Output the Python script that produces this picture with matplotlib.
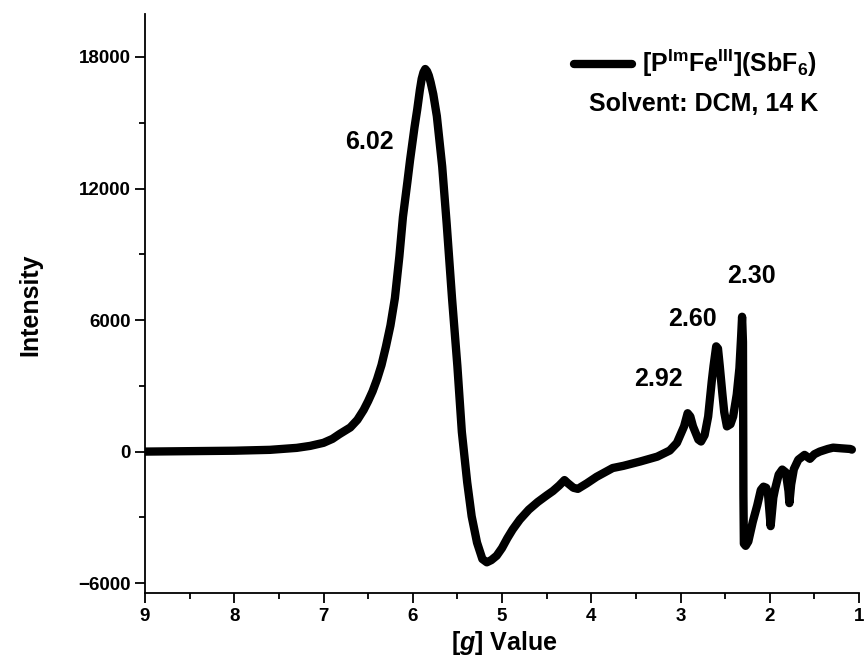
import matplotlib
matplotlib.use('Agg')
import matplotlib.pyplot as plt
from matplotlib.ticker import MultipleLocator

# spectrum: g value vs intensity
g_vals = [9.0, 8.5, 8.0, 7.6, 7.3, 7.15, 7.0, 6.9, 6.82, 6.7, 6.62, 6.55, 6.5, 6.45,
          6.4, 6.35, 6.3, 6.25, 6.2, 6.15, 6.11, 6.06, 6.03, 5.98, 5.95, 5.92, 5.9,
          5.88, 5.86, 5.84, 5.82, 5.8, 5.77, 5.73, 5.67, 5.62, 5.56, 5.5, 5.45, 5.39,
          5.34, 5.28, 5.22, 5.17, 5.12, 5.06, 5.0, 4.94, 4.88, 4.8, 4.7, 4.6, 4.5, 4.43,
          4.36, 4.3, 4.26, 4.2, 4.15, 4.05, 3.94, 3.76, 3.64, 3.45, 3.26, 3.12, 3.04,
          2.96, 2.92, 2.89, 2.86, 2.8, 2.77, 2.73, 2.69, 2.65, 2.63, 2.6, 2.58, 2.56,
          2.53, 2.51, 2.48, 2.44, 2.41, 2.37, 2.34, 2.32, 2.31, 2.3, 2.295, 2.29, 2.27,
          2.24, 2.19, 2.14, 2.1, 2.07, 2.04, 2.02, 1.99, 1.96, 1.94, 1.9, 1.86, 1.82,
          1.79, 1.78, 1.76, 1.73, 1.68, 1.61, 1.55, 1.5, 1.44, 1.35, 1.29, 1.2, 1.1,
          1.08]
intensity = [0, 20, 40, 80, 170, 260, 400, 580, 800, 1100, 1450, 1900, 2300, 2750,
             3300, 3950, 4800, 5750, 7000, 8900, 10700, 12300, 13300, 14800, 15600,
             16500, 17000, 17300, 17450, 17350, 17150, 16850, 16300, 15300, 13000,
             10400, 7000, 3900, 900, -1400, -2950, -4150, -4900, -5050, -4950, -4750,
             -4400, -3950, -3550, -3100, -2650, -2300, -2000, -1800, -1550, -1300,
             -1450, -1650, -1700, -1450, -1150, -750, -650, -450, -230, 50, 400, 1150,
             1750, 1600, 1150, 550, 460, 750, 1600, 3200, 3900, 4800, 4700, 3900, 2600,
             1800, 1150, 1250, 1600, 2600, 3800, 5300, 6150, 5000, -2000, -4200, -4300,
             -4100, -3200, -2450, -1750, -1600, -1650, -1900, -3400, -2100, -1700,
             -1050, -820, -950, -1800, -2350, -1500, -800, -370, -150, -330, -120, 0,
             120, 180, 150, 120, 90]

peak_labels = ['6.02', '2.92', '2.60', '2.30']
peak_label_g = [6.49, 3.25, 2.87, 2.20]
peak_label_y = [14100, 3300, 6050, 8000]

legend_label = r'[P$^{\mathbf{Im}}$Fe$^{\mathbf{III}}$](SbF$_{\mathbf{6}}$)'

plt.rcParams['font.family'] = ['Liberation Sans', 'DejaVu Sans']
plt.rcParams['font.weight'] = 'bold'
plt.rcParams['mathtext.fontset'] = 'custom'
plt.rcParams['mathtext.rm'] = 'Liberation Sans:bold'
plt.rcParams['mathtext.bf'] = 'Liberation Sans:bold'
plt.rcParams['mathtext.it'] = 'Liberation Sans:bold:italic'

fig = plt.figure(figsize=(8.66, 6.65), dpi=100)
ax = fig.add_axes([145/866, 1-593/665, (859-145)/866, (593-14)/665])

ax.plot(g_vals, intensity, color='black', lw=6, solid_joinstyle='round',
        solid_capstyle='round', label=legend_label)

ax.set_xlim(9, 1)
ax.set_ylim(-6450, 19960)
ax.xaxis.set_major_locator(MultipleLocator(1))
ax.xaxis.set_minor_locator(MultipleLocator(0.5))
ax.yaxis.set_major_locator(MultipleLocator(6000))
ax.yaxis.set_minor_locator(MultipleLocator(3000))
ax.spines['top'].set_visible(False)
ax.spines['right'].set_visible(False)
for s in ['left', 'bottom']:
    ax.spines[s].set_linewidth(1.3)
ax.tick_params(which='major', direction='out', length=7, width=1.3, labelsize=13.5)
ax.tick_params(which='minor', direction='out', length=4, width=1.3)
for lab in ax.get_xticklabels() + ax.get_yticklabels():
    lab.set_fontweight('bold')

for t, gx, gy in zip(peak_labels, peak_label_g, peak_label_y):
    ax.text(gx, gy, t, ha='center', va='center', fontsize=18, fontweight='bold')

leg = ax.legend(loc='upper left', bbox_to_anchor=(574/866, 1-48/665),
                bbox_transform=fig.transFigure, frameon=False, fontsize=18,
                handlelength=2.3, handletextpad=0.4, borderaxespad=0, borderpad=0)
for t in leg.get_texts():
    t.set_fontweight('bold')
fig.text(704/866, 1-104/665, 'Solvent: DCM, 14 K', ha='center', va='center',
         fontsize=18, fontweight='bold')

fig.text(30/866, 1-305/665, 'Intensity', rotation=90, ha='center', va='center',
         fontsize=18, fontweight='bold')
fig.text(504/866, 1-643/665, r'[$\mathit{g}$] Value', ha='center', va='center',
         fontsize=18, fontweight='bold')

fig.savefig('out.png', dpi=100)
